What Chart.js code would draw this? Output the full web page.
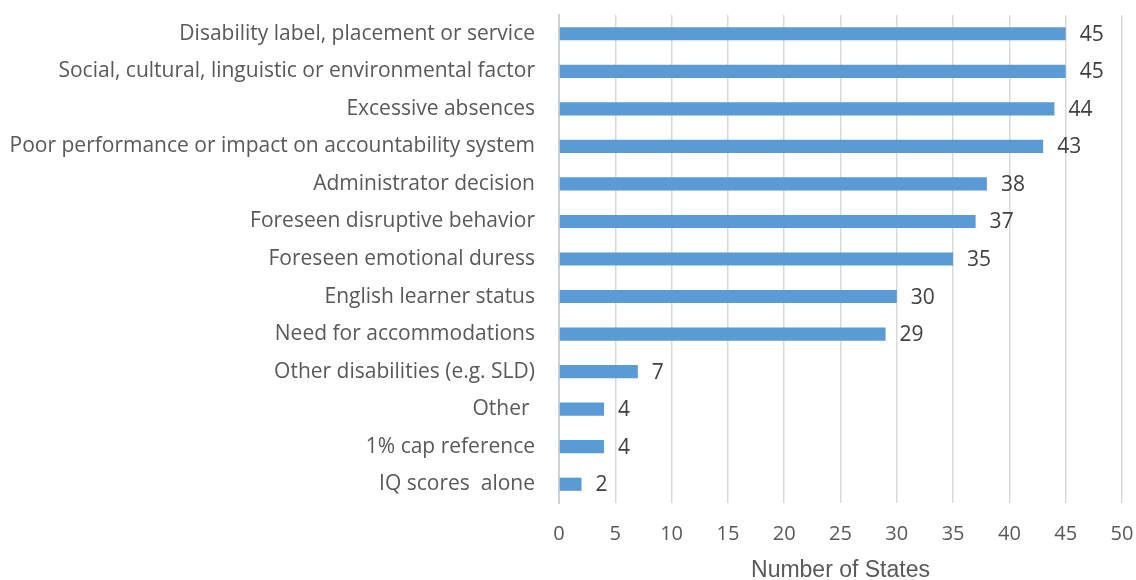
<!DOCTYPE html>
<html>
<head>
<meta charset="utf-8">
<script src="https://cdn.jsdelivr.net/npm/chart.js@4/dist/chart.umd.min.js"></script>
<style>
  body { margin: 0; background: #fff; }
  #wrap { width: 1136px; height: 580px; }
</style>
</head>
<body>
<div id="wrap"><canvas id="myChart"></canvas></div>
<script>
const reasons = [
  "Disability label, placement or service",
  "Social, cultural, linguistic or environmental factor",
  "Excessive absences",
  "Poor performance or impact on accountability system",
  "Administrator decision",
  "Foreseen disruptive behavior",
  "Foreseen emotional duress",
  "English learner status",
  "Need for accommodations",
  "Other disabilities (e.g. SLD)",
  "Other ",
  "1% cap reference",
  "IQ scores  alone"
];
const states = [45, 45, 44, 43, 38, 37, 35, 30, 29, 7, 4, 4, 2];

// value labels next to bars
const valueLabels = {
  id: "valueLabels",
  afterDatasetsDraw(chart) {
    const c = chart.ctx;
    const meta = chart.getDatasetMeta(0);
    c.save();
    c.font = "21px 'Open Sans', sans-serif";
    c.fillStyle = "#404040";
    c.textAlign = "left";
    c.textBaseline = "middle";
    meta.data.forEach((bar, i) => {
      c.fillText(states[i], bar.x + 14, bar.y + 1);
    });
    c.restore();
  }
};

const ctx = document.getElementById("myChart");
new Chart(ctx, {
  type: "bar",
  data: {
    labels: reasons,
    datasets: [{
      data: states,
      backgroundColor: "#5B9BD5",
      barPercentage: 0.35,
      categoryPercentage: 1
    }]
  },
  options: {
    indexAxis: "y",
    responsive: true,
    maintainAspectRatio: false,
    animation: false,
    layout: { padding: { top: 15, right: 14, bottom: 0, left: 0 } },
    plugins: {
      legend: { display: false },
      tooltip: { enabled: false }
    },
    scales: {
      x: {
        min: 0,
        max: 50,
        ticks: {
          stepSize: 5,
          color: "#595959",
          font: { family: "'Open Sans', sans-serif", size: 20 },
          padding: 19
        },
        grid: { color: "#d9d9d9", lineWidth: 1.5, drawTicks: false },
        border: { display: false },
        title: {
          display: true,
          text: "Number of States",
          color: "#595959",
          font: { family: "'Liberation Sans', Arial, sans-serif", size: 23 },
          padding: { top: 0, bottom: -4 }
        },
        afterFit(scale) {
          scale.height = 77;
          scale.paddingLeft = 0;
          scale.paddingRight = 0;
        }
      },
      y: {
        ticks: {
          color: "#595959",
          font: { family: "'Open Sans', sans-serif", size: 21 },
          padding: 24
        },
        grid: { display: false, drawTicks: false },
        border: { color: "#d0d0d0", width: 2 },
        afterFit(scale) {
          scale.width = 559;
          scale.paddingTop = 0;
          scale.paddingBottom = 0;
        }
      }
    }
  },
  plugins: [valueLabels]
});
</script>
</body>
</html>
